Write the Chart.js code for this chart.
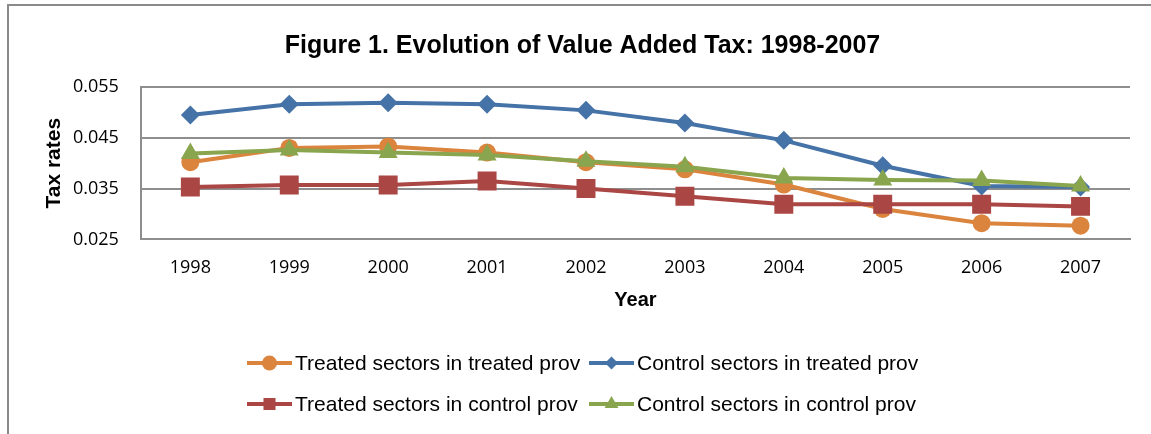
<!DOCTYPE html>
<html>
<head>
<meta charset="utf-8">
<script src="https://cdn.jsdelivr.net/npm/chart.js@4.4.1/dist/chart.umd.min.js"></script>
<style>
  html, body { margin: 0; padding: 0; background: #fff; }
  #wrap { width: 1151px; height: 434px; }
</style>
</head>
<body>
<div id="wrap"><canvas id="vat" width="1151" height="434"></canvas></div>
<script>
// --- DATA ---
const years = ["1998", "1999", "2000", "2001", "2002", "2003", "2004", "2005", "2006", "2007"];
const treatedInTreated = [0.0402, 0.0430, 0.0433, 0.0421, 0.0402, 0.0388, 0.0358, 0.0310, 0.0282, 0.0277];
const controlInTreated = [0.0495, 0.0516, 0.0519, 0.0516, 0.0504, 0.0479, 0.0445, 0.0395, 0.0355, 0.0353];
const treatedInControl = [0.0353, 0.0357, 0.0357, 0.0365, 0.0350, 0.0335, 0.0319, 0.0319, 0.0319, 0.0315];
const controlInControl = [0.0419, 0.0426, 0.0421, 0.0416, 0.0404, 0.0393, 0.0371, 0.0367, 0.0366, 0.0355];
const seriesNames = [
    "Treated sectors in treated prov",
    "Control sectors in treated prov",
    "Treated sectors in control prov",
    "Control sectors in control prov"
];
const yTicks = [0.025, 0.035, 0.045, 0.055];

const colors = ["#DB843D", "#4572A7", "#AA4643", "#89A54E"];
const styles = ["circle", "rectRot", "rect", "triangle"];
const radii = [9, 9.5, 13.4, 11];
const legendRadii = [7.5, 6.5, 8.5, 8];

const sansFont = "'Liberation Sans', Arial, sans-serif";
const tickFont = "'Open Sans', sans-serif";

function makeSet(i, values) {
    return {
        label: seriesNames[i],
        data: values,
        borderColor: colors[i],
        backgroundColor: colors[i],
        borderWidth: 4,
        pointStyle: styles[i],
        pointRadius: radii[i],
        pointBorderWidth: 0,
        pointBackgroundColor: colors[i],
        tension: 0,
        order: 3 - i
    };
}

// --- FRAME (outer chart border) ---
const framePlugin = {
    id: "frame",
    beforeDraw(chart) {
        const ctx = chart.ctx;
        ctx.save();
        ctx.fillStyle = "#fff";
        ctx.fillRect(0, 0, chart.width, chart.height);
        ctx.strokeStyle = "#8a8a8a";
        ctx.lineWidth = 2;
        ctx.beginPath();
        ctx.moveTo(8, chart.height);
        ctx.lineTo(8, 5);
        ctx.lineTo(chart.width, 5);
        ctx.stroke();
        ctx.restore();
    }
};

// --- LEGEND (two rows, line + marker) ---
const legendSpots = [
    { x: 247, y: 363 }, { x: 589, y: 363 },
    { x: 247, y: 404 }, { x: 589, y: 404 }
];
const excelLegend = {
    id: "excelLegend",
    afterDraw(chart) {
        const ctx = chart.ctx;
        ctx.save();
        chart.data.datasets.forEach((ds, i) => {
            const p = legendSpots[i];
            ctx.strokeStyle = colors[i];
            ctx.fillStyle = colors[i];
            ctx.lineWidth = 4;
            ctx.beginPath();
            ctx.moveTo(p.x, p.y);
            ctx.lineTo(p.x + 45, p.y);
            ctx.stroke();
            Chart.helpers.drawPoint(ctx, {
                pointStyle: styles[i], radius: legendRadii[i], rotation: 0, borderWidth: 0
            }, p.x + 22.5, p.y);
            ctx.fillStyle = "#000";
            ctx.font = "21px " + sansFont;
            ctx.textBaseline = "middle";
            ctx.textAlign = "left";
            ctx.fillText(ds.label, p.x + 48, p.y + 1);
        });
        ctx.restore();
    }
};

new Chart(document.getElementById("vat"), {
    type: "line",
    data: {
        labels: years,
        datasets: [
            makeSet(0, treatedInTreated),
            makeSet(1, controlInTreated),
            makeSet(2, treatedInControl),
            makeSet(3, controlInControl)
        ]
    },
    options: {
        responsive: false,
        devicePixelRatio: 1,
        animation: false,
        layout: { padding: { left: 35, right: 21, top: 0, bottom: 118 } },
        plugins: {
            legend: { display: false },
            tooltip: { enabled: false },
            title: {
                display: true,
                text: "Figure 1. Evolution of Value Added Tax: 1998-2007",
                color: "#000",
                font: { family: sansFont, size: 25, weight: "bold" },
                padding: { top: 31, bottom: 26 }
            }
        },
        scales: {
            x: {
                offset: true,
                afterFit: s => { s.height -= s.options.ticks.padding; },
                grid: { display: false, drawTicks: false },
                border: { display: true, color: "#8e8e8e", width: 2 },
                ticks: { color: "#000", font: { family: tickFont, size: 18 }, padding: 18, maxRotation: 0 },
                title: {
                    display: true, text: "Year", color: "#000",
                    font: { family: sansFont, size: 20, weight: "bold" },
                    padding: { top: 9, bottom: 4 }
                }
            },
            y: {
                min: 0.025,
                max: 0.055,
                afterBuildTicks: scale => { scale.ticks = yTicks.map(v => ({ value: v })); },
                afterFit: s => { s.width -= s.options.ticks.padding; },
                grid: { color: "#8e8e8e", lineWidth: 2, drawTicks: false },
                border: { display: true, color: "#8e8e8e", width: 2 },
                ticks: {
                    color: "#000", font: { family: tickFont, size: 18 }, padding: 22,
                    callback: v => v.toFixed(3)
                },
                title: {
                    display: true, text: "Tax rates", color: "#000",
                    font: { family: sansFont, size: 21, weight: "bold" },
                    padding: { top: 6.4, bottom: 6.4 }
                }
            }
        }
    },
    plugins: [framePlugin, excelLegend]
});
</script>
</body>
</html>
